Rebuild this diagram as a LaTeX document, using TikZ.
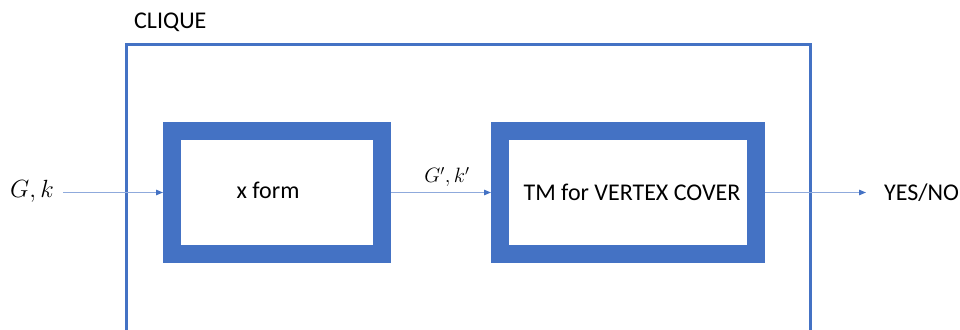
\documentclass[tikz,border=0pt]{standalone}
\usepackage{fontspec}
\setmainfont{Carlito}
\usetikzlibrary{arrows.meta}
\definecolor{boxblue}{HTML}{4472C4}
\definecolor{lineblue}{HTML}{8FAADC}
\tikzset{
  stagebox/.style={draw=boxblue, line width=18pt, outer sep=9pt, fill=white,
    minimum width=210pt, minimum height=123.5pt, inner sep=0pt},
  flow/.style={draw=lineblue, line width=1.2pt,
    -{Triangle[length=7pt,width=5.5pt,color=boxblue]}},
  txt/.style={inner sep=1pt, font=\fontsize{24}{28}\selectfont}
}
\begin{document}
\begin{tikzpicture}[x=1pt,y=-1pt]
\useasboundingbox (0,0) rectangle (960,329);
% outer CLIQUE frame
\coordinate (fbl) at (126.5,330);
\coordinate (ftl) at (126.5,45);
\coordinate (ftr) at (810.5,45);
\coordinate (fbr) at (810.5,330);
\draw[boxblue, line width=3pt] (fbl) -- (ftl) -- (ftr) -- (fbr);
\node[txt, anchor=west] (clique) at (133,22) {CLIQUE};
% stages
\node[stagebox] (xform) at (277,192.5) {};
\node[txt] (xformtxt) at (268,190) {x form};
\node[stagebox, minimum width=256pt] (tm) at (628,192.5) {};
\node[txt] (tmtxt) at (632,192) {TM for VERTEX COVER};
% inputs and outputs
\node[inner sep=0pt, font=\fontsize{27}{31}\selectfont] (gk) at (32,191) {$G,k$};
\node[txt, anchor=west] (yes) at (883,193) {YES/NO};
\coordinate (gkend) at (63,192.5);
\coordinate (yesend) at (866,192.5);
\draw[flow] (gkend) -- (xform.west);
\node[inner sep=0pt, font=\fontsize{20}{24}\selectfont] (gpk) at (447,177) {$G',k'$};
\draw[flow] (xform.east) -- (tm.west);
\draw[flow] (tm.east) -- (yesend);
\end{tikzpicture}
\end{document}
